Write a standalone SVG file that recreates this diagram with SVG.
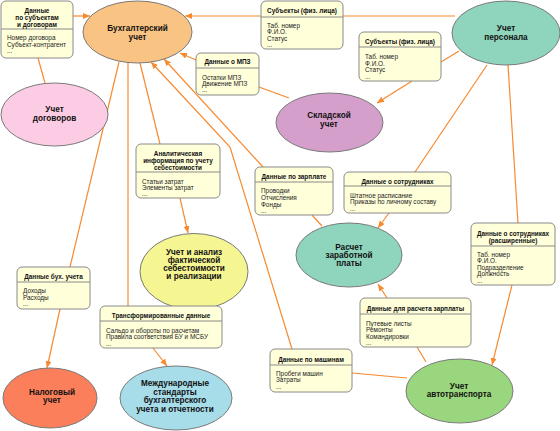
<svg xmlns="http://www.w3.org/2000/svg" width="560" height="431" viewBox="0 0 560 431">
<style>
.card{fill:#FFFFDA;stroke:#8A8A8A;stroke-width:1}
.div{stroke:#8A8A8A;stroke-width:1}
.ell{stroke:#7A7A7A;stroke-width:1}
.t{font-family:"Liberation Sans",Arial,sans-serif;font-weight:bold;font-size:6.4px;text-anchor:middle;fill:#111}
.b{font-family:"Liberation Sans",Arial,sans-serif;font-size:6.4px;fill:#222}
.e{font-family:"Liberation Sans",Arial,sans-serif;font-weight:bold;font-size:8.2px;text-anchor:middle;fill:#111}
.c{fill:none;stroke:#F7892F;stroke-width:1.2}
.a{marker-end:url(#arr)}
</style>
<defs>
<marker id="arr" markerUnits="userSpaceOnUse" markerWidth="8" markerHeight="7" refX="7" refY="3" orient="auto">
<path d="M0,0 L7,3 L0,6 z" fill="#F7892F"/>
</marker>
</defs>
<rect width="560" height="431" fill="#fff"/>
<g id="connectors">
<path class="c a" d="M73,16 L90,16"/>
<path class="c" d="M38,58 L45,83"/>
<path class="c" d="M455,16 L343,16"/>
<path class="c a" d="M261,16 L185,16"/>
<path class="c" d="M459,51 L441,62"/>
<path class="c a" d="M412,81 L377,103"/>
<path class="c" d="M289,98 L259,87"/>
<path class="c a" d="M196,60 L180,53"/>
<path class="c" d="M119,62 L70,267"/>
<path class="c a" d="M60,309 L47,368"/>
<path class="c" d="M128,63 L128,306"/>
<path class="c a" d="M153,348 L167,366"/>
<path class="c" d="M140,63 L160,144"/>
<path class="c a" d="M180,198 L188,233"/>
<path class="c a" d="M263,167 L164,59"/>
<path class="c" d="M312,215 L322,226"/>
<path class="c a" d="M292,349 L230,147 L151,62"/>
<path class="c" d="M352,373 L407,378"/>
<path class="c" d="M487,65 L415,172"/>
<path class="c a" d="M389,213 L378,228"/>
<path class="c" d="M508,65 L518,223"/>
<path class="c a" d="M512,285 L492,365"/>
<path class="c" d="M426,362 L417,347"/>
<path class="c a" d="M387,298 L378,284"/>
</g>
<g id="buh"><ellipse class="ell" cx="137.5" cy="32" rx="54.5" ry="31" fill="#F9C384"/><text class="e" x="137.5" y="31">Бухгалтерский</text><text class="e" x="137.5" y="40">учет</text></g>
<g id="personal"><ellipse class="ell" cx="506" cy="33" rx="54" ry="32" fill="#8FD4BD"/><text class="e" x="506" y="31">Учет</text><text class="e" x="506" y="40">персонала</text></g>
<g id="dogovory"><ellipse class="ell" cx="54.5" cy="114.5" rx="53.5" ry="31.5" fill="#FBCCE3"/><text class="e" x="54.5" y="112">Учет</text><text class="e" x="54.5" y="121">договоров</text></g>
<g id="sklad"><ellipse class="ell" cx="329.5" cy="122.5" rx="53.5" ry="29.5" fill="#D59FCB"/><text class="e" x="329" y="118">Складской</text><text class="e" x="329" y="127">учет</text></g>
<g id="sebest"><ellipse class="ell" cx="194" cy="271.5" rx="54" ry="38" fill="#F5F591"/><text class="e" x="194" y="255">Учет и анализ</text><text class="e" x="194" y="263">фактической</text><text class="e" x="194" y="271">себестоимости</text><text class="e" x="194" y="279">и реализации</text></g>
<g id="zarplata"><ellipse class="ell" cx="349" cy="255" rx="53" ry="32" fill="#8FD4BD"/><text class="e" x="349" y="250">Расчет</text><text class="e" x="349" y="258">заработной</text><text class="e" x="349" y="266">платы</text></g>
<g id="nalog"><ellipse class="ell" cx="50" cy="398" rx="47" ry="30" fill="#FB7F5A"/><text class="e" x="52" y="395">Налоговый</text><text class="e" x="52" y="403">учет</text></g>
<g id="msfo"><ellipse class="ell" cx="176" cy="398" rx="56" ry="32" fill="#A7DCE9"/><text class="e" x="175" y="386">Международные</text><text class="e" x="175" y="394.5">стандарты</text><text class="e" x="175" y="403">бухгалтерского</text><text class="e" x="175" y="411.5">учета и отчетности</text></g>
<g id="avto"><ellipse class="ell" cx="459.5" cy="391" rx="53.5" ry="32" fill="#9AD67D"/><text class="e" x="459" y="389">Учет</text><text class="e" x="459" y="397">автотранспорта</text></g>
<g id="cardA"><rect class="card" x="1" y="1" width="72" height="57" rx="5"/><line class="div" x1="1" y1="29" x2="73" y2="29"/><text class="t" x="37" y="12.5">Данные</text><text class="t" x="37" y="19.5">по субъектам</text><text class="t" x="37" y="26.5">и договорам</text><text class="b" x="7" y="39.5">Номер договора</text><text class="b" x="7" y="46.5">Субъект-контрагент</text><text class="b" x="7" y="53">...</text></g>
<g id="cardB"><rect class="card" x="261" y="1" width="82" height="48" rx="5"/><line class="div" x1="261" y1="17" x2="343" y2="17"/><text class="t" x="302" y="13">Субъекты (физ. лица)</text><text class="b" x="267" y="27.5">Таб. номер</text><text class="b" x="267" y="34">Ф.И.О.</text><text class="b" x="267" y="40.5">Статус</text><text class="b" x="267" y="47">...</text></g>
<g id="cardC"><rect class="card" x="359" y="32" width="82" height="49" rx="5"/><line class="div" x1="359" y1="47" x2="441" y2="47"/><text class="t" x="400" y="44">Субъекты (физ. лица)</text><text class="b" x="365" y="59">Таб. номер</text><text class="b" x="365" y="65.5">Ф.И.О.</text><text class="b" x="365" y="72">Статус</text><text class="b" x="365" y="78.5">...</text></g>
<g id="cardD"><rect class="card" x="196" y="53" width="63" height="42" rx="5"/><line class="div" x1="196" y1="68" x2="259" y2="68"/><text class="t" x="227.5" y="64">Данные о МПЗ</text><text class="b" x="202" y="79.5">Остатки МПЗ</text><text class="b" x="202" y="86">Движение МПЗ</text><text class="b" x="202" y="92">...</text></g>
<g id="cardE"><rect class="card" x="136" y="144" width="84" height="54" rx="5"/><line class="div" x1="136" y1="172" x2="220" y2="172"/><text class="t" x="178" y="155.5">Аналитическая</text><text class="t" x="178" y="162.5">информация по учету</text><text class="t" x="178" y="169.5">себестоимости</text><text class="b" x="142" y="183.5">Статьи затрат</text><text class="b" x="142" y="190">Элементы затрат</text><text class="b" x="142" y="196">...</text></g>
<g id="cardF"><rect class="card" x="255" y="167" width="78" height="48" rx="5"/><line class="div" x1="255" y1="182" x2="333" y2="182"/><text class="t" x="294" y="178.5">Данные по зарплате</text><text class="b" x="261" y="193">Проводки</text><text class="b" x="261" y="200">Отчисления</text><text class="b" x="261" y="207">Фонды</text><text class="b" x="261" y="213">...</text></g>
<g id="cardG"><rect class="card" x="344" y="172" width="107" height="41" rx="5"/><line class="div" x1="344" y1="186" x2="451" y2="186"/><text class="t" x="397.5" y="183.5">Данные о сотрудниках</text><text class="b" x="350" y="197.5">Штатное расписание</text><text class="b" x="350" y="204">Приказы по личному составу</text><text class="b" x="350" y="210.5">...</text></g>
<g id="cardH"><rect class="card" x="471" y="223" width="84" height="62" rx="5"/><line class="div" x1="471" y1="246" x2="555" y2="246"/><text class="t" x="513" y="235.5">Данные о сотрудниках</text><text class="t" x="513" y="242.5">(расширенные)</text><text class="b" x="477" y="256.5">Таб. номер</text><text class="b" x="477" y="263">Ф.И.О.</text><text class="b" x="477" y="269.5">Подразделение</text><text class="b" x="477" y="276">Должность</text><text class="b" x="477" y="282.5">...</text></g>
<g id="cardI"><rect class="card" x="17" y="267" width="73" height="42" rx="5"/><line class="div" x1="17" y1="282" x2="90" y2="282"/><text class="t" x="53.5" y="278.5">Данные бух. учета</text><text class="b" x="23" y="293">Доходы</text><text class="b" x="23" y="300">Расходы</text><text class="b" x="23" y="306">...</text></g>
<g id="cardJ"><rect class="card" x="100" y="306" width="122" height="42" rx="5"/><line class="div" x1="100" y1="321" x2="222" y2="321"/><text class="t" x="161" y="317.5">Трансформированные данные</text><text class="b" x="106" y="332.5">Сальдо и обороты по расчетам</text><text class="b" x="106" y="339">Правила соответствия БУ и МСБУ</text><text class="b" x="106" y="345.5">...</text></g>
<g id="cardK"><rect class="card" x="360" y="298" width="111" height="49" rx="5"/><line class="div" x1="360" y1="314" x2="471" y2="314"/><text class="t" x="415.5" y="310.5">Данные для расчета зарплаты</text><text class="b" x="366" y="325.5">Путевые листы</text><text class="b" x="366" y="332">Ремонты</text><text class="b" x="366" y="338.5">Командировки</text><text class="b" x="366" y="345">...</text></g>
<g id="cardL"><rect class="card" x="270" y="349" width="82" height="43" rx="5"/><line class="div" x1="270" y1="365" x2="352" y2="365"/><text class="t" x="311" y="361.5">Данные по машинам</text><text class="b" x="276" y="375.5">Пробеги машин</text><text class="b" x="276" y="382">Затраты</text><text class="b" x="276" y="389">...</text></g>
</svg>
